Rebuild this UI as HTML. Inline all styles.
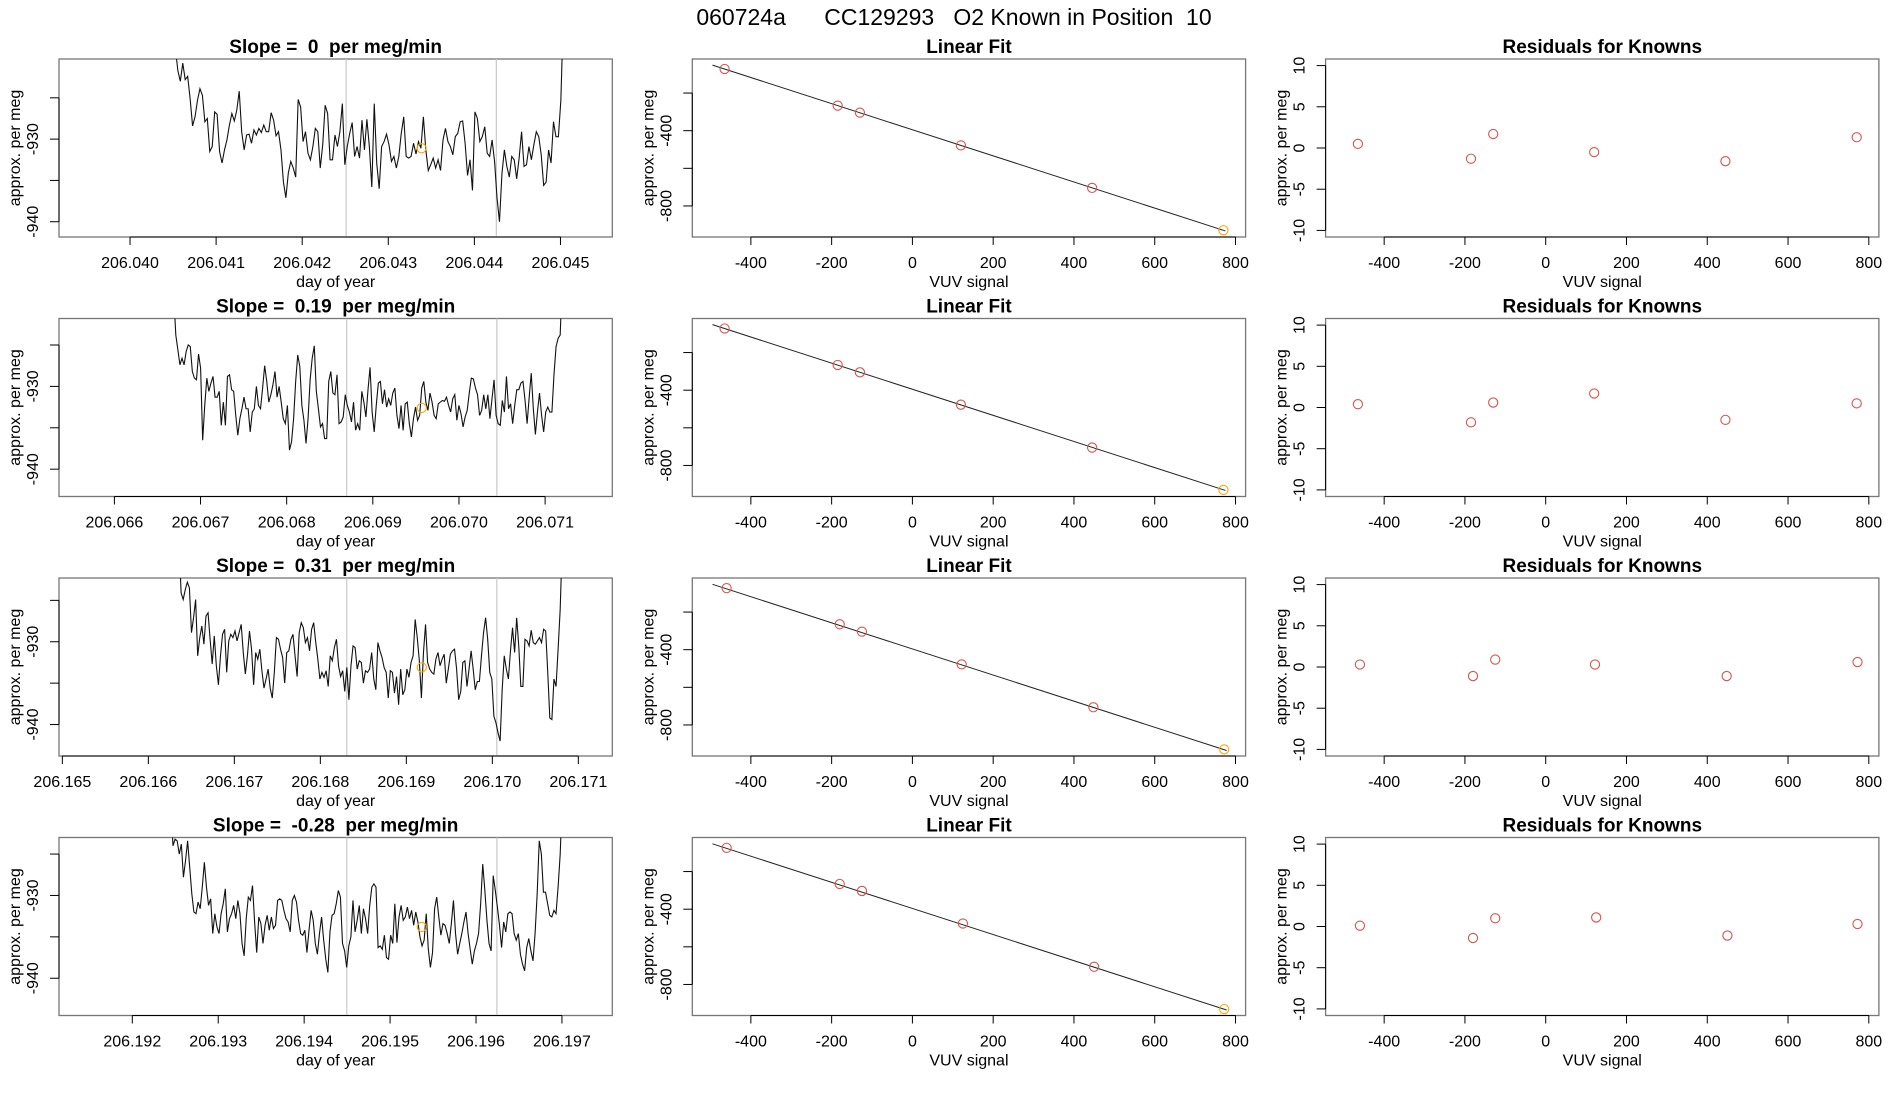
<!DOCTYPE html>
<html><head><meta charset="utf-8"><title>060724a CC129293</title>
<style>
html,body{margin:0;padding:0;background:#fff;}
svg{display:block;font-family:"Liberation Sans",Arial,sans-serif;}
text{white-space:pre;}
</style></head>
<body>
<svg id="fig" width="1900" height="1100" viewBox="0 0 1900 1100" xmlns="http://www.w3.org/2000/svg">
<rect x="0" y="0" width="1900" height="1100" fill="#fff"/>
<text x="954" y="25" font-size="23" text-anchor="middle" fill="#000" xml:space="preserve">060724a      CC129293   O2 Known in Position  10</text>
</svg>
<script>
// ---------------- data ----------------
const slopeLabels = ["0", "0.19", "0.31", "-0.28"];
const tsXlimLeft = [206.039175, 206.065357, 206.164961, 206.191147];
const tsXlimRight = [206.045602, 206.071780, 206.171395, 206.197586];
const tsYlimTop = [-920.3, -921.8, -922.3, -923.0];
const tsYlimBottom = [-941.85, -943.3, -943.8, -944.5];
const tsXTicks1 = ["206.040","206.041","206.042","206.043","206.044","206.045"];
const tsXTicks2 = ["206.066","206.067","206.068","206.069","206.070","206.071"];
const tsXTicks3 = ["206.165","206.166","206.167","206.168","206.169","206.170","206.171"];
const tsXTicks4 = ["206.192","206.193","206.194","206.195","206.196","206.197"];
const tsYTicks = [-925, -930, -935, -940];
const tsYTickLabels = ["", "-930", "", "-940"];
const tsStart = [206.040527, 206.066689, 206.166357, 206.192449];
const tsEnd = [206.045033, 206.071199, 206.170813, 206.197004];
const grayLine1 = [206.042510, 206.068697, 206.168307, 206.194496];
const grayLine2 = [206.044255, 206.070440, 206.170052, 206.196243];
const orangeT = [206.043387, 206.069568, 206.169180, 206.195369];
const orangeV = [-931.1, -932.6, -933.1, -933.8];

const tsVals1 = [-919,-921.7,-923.0,-920.8,-922.8,-922.4,-925.1,-928.4,-927.3,-925.3,-923.9,-924.7,-927.9,-927.5,-931.5,-930.9,-926.7,-927.0,-931.5,-932.9,-931.3,-930.1,-928.3,-926.9,-927.8,-926.5,-924.2,-929.1,-931.3,-929.5,-929.4,-930.5,-928.9,-929.5,-928.7,-929.2,-928.3,-929.1,-929.1,-926.8,-927.7,-929.6,-929.1,-931.3,-935.2,-937.1,-934.1,-932.7,-933.5,-934.6,-925.2,-926.1,-930.3,-929.1,-931.7,-932.5,-930.9,-928.7,-929.1,-933.5,-930.7,-925.9,-926.9,-932.5,-932.5,-929.5,-930.9,-929.1,-925.7,-933.1,-930.9,-929.3,-928.0,-932.1,-930.9,-932.3,-927.7,-931.3,-927.6,-930.9,-935.8,-925.7,-932.9,-936.0,-930.9,-930.3,-929.4,-930.7,-932.7,-932.1,-933.5,-932.1,-929.3,-927.3,-932.1,-932.3,-932.1,-930.5,-931.8,-930.3,-931.1,-927.3,-931.3,-933.8,-933.1,-932.3,-933.5,-932.5,-933.8,-930.1,-928.7,-930.3,-930.9,-931.9,-929.7,-929.3,-927.9,-927.8,-930.5,-934.4,-932.5,-936.2,-926.7,-927.5,-930.3,-929.7,-928.5,-931.7,-932.1,-930.1,-932.7,-937.1,-940.0,-934.2,-931.3,-933.3,-934.6,-932.1,-932.5,-934.8,-932.3,-929.1,-933.3,-933.1,-930.9,-932.5,-930.7,-929.1,-929.7,-931.9,-935.6,-935.2,-931.3,-932.9,-927.9,-929.7,-929.7,-925.3,-915];
const tsVals2 = [-919,-923.8,-925.6,-927.4,-926.6,-927.4,-925.8,-925.0,-925.2,-928.2,-929.0,-929.2,-926.1,-927.8,-936.5,-932.3,-929.0,-930.6,-929.6,-928.8,-931.3,-931.3,-930.6,-934.7,-931.9,-934.7,-928.8,-928.6,-930.4,-930.6,-933.5,-935.9,-933.9,-932.7,-931.3,-932.7,-932.7,-935.5,-933.1,-932.7,-930.0,-932.3,-932.7,-930.2,-927.5,-929.4,-931.9,-931.0,-929.8,-928.2,-931.3,-930.0,-931.9,-933.9,-934.5,-932.3,-937.7,-936.7,-933.9,-929.4,-926.2,-927.6,-932.3,-934.1,-936.9,-933.9,-929.2,-926.6,-925.1,-930.6,-932.7,-934.9,-934.5,-936.3,-936.3,-929.4,-928.2,-930.8,-931.0,-928.6,-934.5,-934.3,-933.7,-931.0,-932.3,-933.1,-934.3,-931.9,-935.3,-934.5,-935.3,-930.6,-931.9,-933.7,-930.4,-927.7,-933.1,-935.5,-932.3,-929.6,-929.4,-932.1,-930.4,-932.5,-931.5,-932.3,-930.8,-930.2,-933.5,-935.1,-932.3,-935.3,-932.1,-931.9,-934.5,-936.1,-933.9,-932.5,-934.1,-933.5,-930.2,-929.4,-931.9,-932.9,-930.8,-931.9,-933.5,-933.9,-932.1,-931.9,-931.7,-931.8,-931.3,-932.3,-933.1,-931.5,-931.0,-934.1,-932.3,-933.3,-934.9,-933.7,-932.9,-930.8,-929.0,-929.1,-930.2,-931.0,-933.5,-932.9,-931.0,-932.7,-931.0,-933.9,-931.5,-929.2,-933.5,-934.5,-934.7,-931.7,-933.1,-928.8,-932.7,-932.1,-934.5,-932.3,-930.4,-930.4,-929.6,-929.4,-931.7,-934.5,-931.3,-928.4,-932.7,-935.8,-933.1,-930.8,-933.5,-935.5,-933.1,-932.5,-933.1,-933.1,-928.6,-925.2,-924.2,-923.8,-917];
const tsVals3 = [-918,-924.1,-924.9,-923.7,-922.8,-923.5,-928.9,-927.1,-924.9,-931.7,-929.5,-928.1,-930.3,-926.9,-926.5,-929.7,-932.7,-929.3,-932.9,-935.2,-931.7,-929.1,-928.5,-933.7,-929.9,-929.1,-929.5,-928.7,-929.9,-928.9,-927.9,-931.3,-933.9,-931.7,-928.7,-930.9,-935.2,-931.3,-932.1,-930.9,-933.5,-935.6,-934.5,-933.3,-935.6,-936.8,-933.7,-929.5,-929.7,-930.9,-931.9,-935.0,-931.3,-931.1,-929.7,-929.1,-931.7,-934.2,-928.9,-927.7,-928.3,-930.1,-929.5,-931.1,-928.5,-927.7,-930.1,-932.1,-934.5,-933.7,-934.3,-933.5,-935.4,-931.7,-932.3,-930.7,-929.7,-932.9,-934.2,-933.5,-936.0,-933.1,-937.0,-932.9,-930.5,-930.7,-933.3,-932.3,-932.5,-935.0,-933.5,-933.7,-933.3,-931.3,-934.5,-935.8,-930.1,-931.1,-931.9,-933.1,-933.7,-936.8,-933.5,-933.7,-936.2,-934.2,-937.6,-933.3,-936.4,-935.8,-933.3,-934.3,-932.5,-931.7,-927.3,-929.5,-932.3,-936.8,-931.3,-927.9,-932.5,-933.3,-933.7,-933.9,-932.1,-931.3,-932.9,-932.1,-931.5,-935.0,-933.3,-931.5,-931.1,-930.9,-933.3,-937.0,-936.0,-932.5,-932.3,-935.4,-933.3,-931.1,-933.3,-935.8,-934.8,-934.8,-931.7,-928.9,-927.1,-929.7,-933.7,-934.5,-939.0,-939.8,-941.0,-942.0,-935.8,-931.7,-933.3,-934.5,-931.1,-928.3,-931.3,-927.1,-930.5,-935.4,-935.4,-929.7,-929.9,-930.5,-928.6,-930.1,-930.3,-929.9,-929.5,-930.1,-928.5,-928.7,-933.7,-939.2,-939.4,-934.5,-935.4,-930.9,-926.1,-918];
const tsVals4 = [-919,-924.0,-923.2,-923.4,-925.0,-923.8,-927.8,-925.8,-923.4,-926.6,-929.8,-932.0,-932.2,-930.8,-931.6,-929.0,-926.0,-929.0,-931.2,-930.4,-934.6,-932.2,-933.8,-934.6,-932.2,-931.0,-929.2,-934.4,-932.8,-932.2,-931.2,-932.8,-930.6,-932.2,-935.8,-937.3,-932.8,-930.2,-930.6,-928.8,-933.2,-936.9,-932.6,-933.4,-935.8,-933.6,-932.4,-934.2,-932.6,-934.0,-933.6,-930.6,-930.4,-930.6,-931.8,-932.8,-933.2,-934.4,-930.6,-930.0,-930.8,-933.0,-934.6,-934.8,-934.2,-936.9,-934.2,-931.8,-933.0,-935.8,-937.1,-934.6,-932.6,-935.4,-937.7,-939.3,-934.4,-932.4,-932.2,-931.0,-929.4,-930.2,-935.8,-936.7,-938.7,-936.1,-935.0,-930.6,-934.4,-933.0,-931.2,-934.6,-931.6,-932.8,-934.6,-931.2,-929.0,-928.6,-929.0,-936.3,-936.1,-936.5,-934.8,-937.5,-937.7,-934.8,-935.8,-931.0,-935.7,-932.6,-931.2,-933.0,-932.6,-931.4,-932.8,-931.8,-933.6,-932.0,-933.2,-935.0,-936.1,-935.4,-932.2,-936.5,-938.7,-936.9,-931.6,-930.2,-932.6,-934.8,-933.4,-933.6,-934.6,-935.8,-933.4,-930.6,-934.6,-937.1,-935.8,-934.6,-933.2,-932.0,-934.6,-936.5,-938.3,-936.7,-935.8,-934.6,-931.0,-926.2,-929.4,-933.0,-935.8,-936.7,-927.6,-929.4,-931.4,-933.6,-936.3,-933.2,-934.4,-932.2,-932.0,-932.2,-934.6,-935.4,-934.6,-937.1,-938.3,-939.1,-936.3,-935.2,-936.7,-937.9,-934.6,-929.8,-923.4,-925.0,-929.6,-929.6,-931.0,-932.4,-932.6,-931.8,-932.2,-929.0,-925.0,-918];

const vuvX1 = [-465, -185, -130, 120, 445, 770];
const vuvX2 = [-465, -185, -130, 120, 445, 770];
const vuvX3 = [-460, -180, -125, 122, 448, 772];
const vuvX4 = [-460, -180, -125, 125, 450, 772];
const fitY1 = [-72, -267, -304, -478, -704, -929];
const fitY2 = [-72, -266, -305, -477, -705, -930];
const fitY3 = [-73, -265, -304, -478, -706, -930];
const fitY4 = [-74, -266, -303, -476, -706, -931];
const fitIntercept = [-395, -395, -396, -396];
const fitSlope = [-0.694, -0.694, -0.694, -0.694];
const fitLineFrom = [-495, -495, -495, -495];
const fitLineTo = [775, 775, 778, 778];
const resid1 = [0.5, -1.3, 1.7, -0.5, -1.6, 1.3];
const resid2 = [0.4, -1.8, 0.6, 1.7, -1.5, 0.5];
const resid3 = [0.3, -1.1, 0.9, 0.3, -1.1, 0.6];
const resid4 = [0.1, -1.4, 1.0, 1.1, -1.1, 0.3];
const vuvTicks = [-400, -200, 0, 200, 400, 600, 800];
const fitYTicks = [-200, -400, -600, -800];
const fitYTickLabels = ["", "-400", "", "-800"];
const residYTicks = [-10, -5, 0, 5, 10];
const residYTickLabels = ["-10", "-5", "0", "5", "10"];

// ---------------- layout ----------------
const NS = "http://www.w3.org/2000/svg";
const svg = document.getElementById("fig");
const rowTops = [59, 318.5, 578, 837.5];
const boxH = 178;
const colLefts = [59, 692.3, 1325.6];
const boxW = 553.3;
const vuvXlim = [-545, 825];
const fitYlim = [-19, -965];
const residYlim = [10.8, -10.8];
const tsVals = [tsVals1, tsVals2, tsVals3, tsVals4];
const tsXTicks = [tsXTicks1, tsXTicks2, tsXTicks3, tsXTicks4];
const vuvX = [vuvX1, vuvX2, vuvX3, vuvX4];
const fitY = [fitY1, fitY2, fitY3, fitY4];
const resid = [resid1, resid2, resid3, resid4];

function mk(tag, attrs, parent) {
  const e = document.createElementNS(NS, tag);
  for (const k in attrs) e.setAttribute(k, attrs[k]);
  (parent || svg).appendChild(e);
  return e;
}
function linScale(d0, d1, r0, r1) { return v => r0 + (v - d0) / (d1 - d0) * (r1 - r0); }

let clipId = 0;
function panel(r, c, title, name) {
  const g = mk("g", {});
  
  
  const x0 = colLefts[c], y0 = rowTops[r];
  const cp = mk("clipPath", { id: "cp" + clipId }, g);
  mk("rect", { x: x0, y: y0, width: boxW, height: boxH }, cp);
  const t = mk("text", { x: x0 + boxW / 2, y: y0 - 6, "font-size": 19, "font-weight": "bold", "text-anchor": "middle" }, g);
  t.setAttributeNS("http://www.w3.org/XML/1998/namespace", "xml:space", "preserve");
  t.textContent = title;
  
  
  const box = mk("rect", { x: x0, y: y0, width: boxW, height: boxH, fill: "none", stroke: "#777", "stroke-width": 1.3 }, g);
  
  
  return { g, x0, y0, clip: "url(#cp" + (clipId++) + ")" };
}
function xAxis(p, xs, vals, labels, title) {
  const y = p.y0 + boxH;
  const ax = mk("g", {}, p.g);
  
  
  const px = vals.map(xs);
  mk("line", { x1: px[0], x2: px[px.length - 1], y1: y, y2: y, stroke: "#000", "stroke-width": 1 }, ax);
  vals.forEach((v, i) => {
    mk("line", { x1: px[i], x2: px[i], y1: y, y2: y + 8, stroke: "#000", "stroke-width": 1 }, ax);
    const t = mk("text", { x: px[i], y: y + 31, "font-size": 16, "text-anchor": "middle" }, ax);
    t.textContent = labels[i];
    
    
  });
  const tt = mk("text", { x: p.x0 + boxW / 2, y: y + 50, "font-size": 16, "text-anchor": "middle" }, ax);
  tt.textContent = title;
  
  
}
function yAxis(p, ys, vals, labels) {
  const x = p.x0;
  const ax = mk("g", {}, p.g);
  
  
  const py = vals.map(ys);
  mk("line", { x1: x, x2: x, y1: Math.min(...py), y2: Math.max(...py), stroke: "#000", "stroke-width": 1 }, ax);
  vals.forEach((v, i) => {
    mk("line", { x1: x - 9, x2: x, y1: py[i], y2: py[i], stroke: "#000", "stroke-width": 1 }, ax);
    if (labels[i]) {
      const t = mk("text", { x: x - 21, y: py[i], "font-size": 16, "text-anchor": "middle", transform: `rotate(-90 ${x - 21} ${py[i]})` }, ax);
      t.textContent = labels[i];
      
      
    }
  });
  const cy = p.y0 + boxH / 2;
  const tt = mk("text", { x: x - 39, y: cy, "font-size": 16, "text-anchor": "middle", transform: `rotate(-90 ${x - 39} ${cy})` }, ax);
  tt.textContent = "approx. per meg";
  
  
}
function circle(parent, cx, cy, col, name) {
  const c = mk("circle", { cx, cy, r: 4.6, fill: "none", stroke: col, "stroke-width": 1.1 }, parent);
  
  
}

for (let r = 0; r < 4; r++) {
  // ---- time series ----
  const p = panel(r, 0, "Slope =  " + slopeLabels[r] + "  per meg/min", "time-series-panel-" + (r + 1));
  const xs = linScale(tsXlimLeft[r], tsXlimRight[r], p.x0, p.x0 + boxW);
  const ys = linScale(tsYlimTop[r], tsYlimBottom[r], p.y0, p.y0 + boxH);
  const inner = mk("g", { "clip-path": p.clip }, p.g);
  [grayLine1[r], grayLine2[r]].forEach(t => {
    const l = mk("line", { x1: xs(t), x2: xs(t), y1: p.y0, y2: p.y0 + boxH, stroke: "#c8c8c8", "stroke-width": 1.2 }, inner);
    
    
  });
  const vals = tsVals[r];
  const n = vals.length;
  const dt = (tsEnd[r] - tsStart[r]) / (n - 1);
  const d = vals.map((v, i) => (i ? "L" : "M") + xs(tsStart[r] + i * dt).toFixed(2) + "," + ys(v).toFixed(2)).join("");
  const path = mk("path", { d, fill: "none", stroke: "#111", "stroke-width": 1.1 }, inner);
  
  
  circle(inner, xs(orangeT[r]), ys(orangeV[r]), "#ffa500", "mean-marker");
  xAxis(p, xs, tsXTicks[r].map(Number), tsXTicks[r], "day of year");
  yAxis(p, ys, tsYTicks, tsYTickLabels);

  // ---- linear fit ----
  const q = panel(r, 1, "Linear Fit", "linear-fit-panel-" + (r + 1));
  const xv = linScale(vuvXlim[0], vuvXlim[1], q.x0, q.x0 + boxW);
  const yf = linScale(fitYlim[0], fitYlim[1], q.y0, q.y0 + boxH);
  const qi = mk("g", { "clip-path": q.clip }, q.g);
  const a = fitLineFrom[r], b = fitLineTo[r];
  const fl = mk("line", { x1: xv(a), y1: yf(fitIntercept[r] + fitSlope[r] * a), x2: xv(b), y2: yf(fitIntercept[r] + fitSlope[r] * b), stroke: "#222", "stroke-width": 1 }, qi);
  
  
  vuvX[r].forEach((x, i) => circle(qi, xv(x), yf(fitY[r][i]), i === vuvX[r].length - 1 ? "#ffa500" : "#d9534f", "known-point"));
  xAxis(q, xv, vuvTicks, vuvTicks.map(String), "VUV signal");
  yAxis(q, yf, fitYTicks, fitYTickLabels);

  // ---- residuals ----
  const s = panel(r, 2, "Residuals for Knowns", "residuals-panel-" + (r + 1));
  const xr = linScale(vuvXlim[0], vuvXlim[1], s.x0, s.x0 + boxW);
  const yr = linScale(residYlim[0], residYlim[1], s.y0, s.y0 + boxH);
  vuvX[r].forEach((x, i) => circle(s.g, xr(x), yr(resid[r][i]), "#d9534f", "residual-point"));
  xAxis(s, xr, vuvTicks, vuvTicks.map(String), "VUV signal");
  yAxis(s, yr, residYTicks, residYTickLabels);
}
</script>
</body></html>
